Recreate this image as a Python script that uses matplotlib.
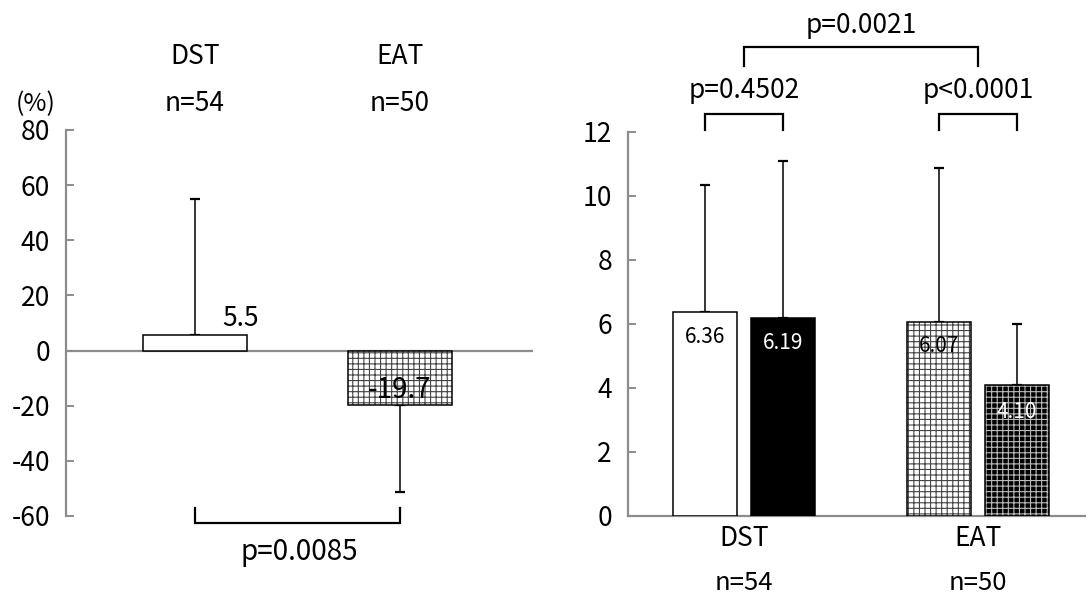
import matplotlib
matplotlib.use("Agg")
import matplotlib.pyplot as plt

plt.rcParams['font.family'] = ['Noto Sans CJK JP', 'DejaVu Sans']
plt.rcParams['hatch.linewidth'] = 0.8
plt.rcParams['axes.unicode_minus'] = False

# ---------------- data ----------------
left_categories = ['DST', 'EAT']
left_n = ['n=54', 'n=50']
left_values = [5.5, -19.7]
left_sd = [49.5, 31.6]
left_labels = ['5.5', '-19.7']
left_p = 'p=0.0085'
left_yticks = [-60, -40, -20, 0, 20, 40, 60, 80]

right_groups = ['DST', 'EAT']
right_n = ['n=54', 'n=50']
right_first = [6.36, 6.07]
right_first_sd = [3.97, 4.80]
right_second = [6.19, 4.10]
right_second_sd = [4.90, 1.90]
right_first_labels = ['6.36', '6.07']
right_second_labels = ['6.19', '4.10']
right_p_within = ['p=0.4502', 'p<0.0001']
right_p_between = 'p=0.0021'
right_yticks = [0, 2, 4, 6, 8, 10, 12]

GRAY = '#8c8c8c'
FS = 19

fig = plt.figure(figsize=(10.88, 5.96), dpi=100)

def px_axes(x0, y0, x1, y1):
    W, H = 1088, 596
    return fig.add_axes([x0 / W, (H - y1) / H, (x1 - x0) / W, (y1 - y0) / H])

# ---------------- left chart ----------------
axL = px_axes(66, 130, 533, 516)
axL.set_xlim(-0.629, 1.649)
axL.set_ylim(-60, 80)
for s in ['top', 'right', 'bottom']:
    axL.spines[s].set_visible(False)
axL.spines['left'].set_color(GRAY)
axL.spines['left'].set_linewidth(1.6)
axL.set_xticks([])
axL.set_yticks(left_yticks)
axL.tick_params(axis='y', direction='in', length=6, width=1.4, color=GRAY,
                pad=11.5, labelsize=FS)
axL.axhline(0, color=GRAY, lw=1.6, zorder=1)

bw = 0.507
xs = [0, 1]
# DST: white bar
axL.bar(xs[0], left_values[0], bw, color='white', edgecolor='black', lw=1.1, zorder=3)
# EAT: hatched bar
axL.bar(xs[1], left_values[1], bw, color='white', edgecolor='#444444', hatch='+++',
        lw=0, zorder=3)
axL.bar(xs[1], left_values[1], bw, fill=False, edgecolor='black', lw=1.1, zorder=4)
# error bars (one-sided)
axL.errorbar(xs[0], left_values[0], yerr=[[0], [left_sd[0]]], fmt='none',
             ecolor='black', elinewidth=1.1, capsize=3.5, capthick=1.6, zorder=2)
axL.errorbar(xs[1], left_values[1], yerr=[[left_sd[1]], [0]], fmt='none',
             ecolor='black', elinewidth=1.1, capsize=3.5, capthick=1.6, zorder=2)

axL.text(0.22, 11.8, left_labels[0], ha='center', va='center', fontsize=FS)
axL.text(1.0, -14.3, left_labels[1], ha='center', va='center', fontsize=FS + 1, zorder=5)

for x, c, n in zip(xs, left_categories, left_n):
    axL.text(x, 106.6, c, ha='center', va='center', fontsize=FS, clip_on=False)
    axL.text(x, 89.5, n, ha='center', va='center', fontsize=FS, clip_on=False)
axL.text(-0.776, 89.5, '(%)', ha='center', va='center', fontsize=FS - 1, clip_on=False)

# bracket below
axL.plot([xs[0], xs[0], xs[1], xs[1]], [-57.1, -62.6, -62.6, -57.1], color='black',
         lw=1.6, clip_on=False, solid_joinstyle='miter')
axL.text(0.51, -73.1, left_p, ha='center', va='center', fontsize=FS + 1, clip_on=False)

# ---------------- right chart ----------------
axR = px_axes(628, 132, 1085, 516)
axR.set_xlim(-0.496, 1.457)
axR.set_ylim(0, 12)
for s in ['top', 'right']:
    axR.spines[s].set_visible(False)
for s in ['left', 'bottom']:
    axR.spines[s].set_color(GRAY)
    axR.spines[s].set_linewidth(1.6)
axR.set_xticks([])
axR.set_yticks(right_yticks)
axR.tick_params(axis='y', direction='in', length=6, width=1.4, color=GRAY,
                pad=11.5, labelsize=FS)

rbw = 0.273
off = 0.167
g = [0, 1]
x1 = [g[0] - off, g[1] - off]
x2 = [g[0] + off, g[1] + off]

# DST first: white plain
axR.bar(x1[0], right_first[0], rbw, color='white', edgecolor='black', lw=1.1, zorder=3)
# DST second: black plain
axR.bar(x2[0], right_second[0], rbw, color='black', edgecolor='black', lw=1.1, zorder=3)
# EAT first: white hatched
axR.bar(x1[1], right_first[1], rbw, color='white', edgecolor='#444444', hatch='+++',
        lw=0, zorder=3)
axR.bar(x1[1], right_first[1], rbw, fill=False, edgecolor='black', lw=1.1, zorder=4)
# EAT second: black hatched
axR.bar(x2[1], right_second[1], rbw, color='black', edgecolor='#bbbbbb', hatch='+++',
        lw=0, zorder=3)
axR.bar(x2[1], right_second[1], rbw, fill=False, edgecolor='black', lw=1.1, zorder=4)

axR.errorbar(x1, right_first, yerr=[[0, 0], right_first_sd], fmt='none', ecolor='black',
             elinewidth=1.1, capsize=3.5, capthick=1.6, zorder=2)
axR.errorbar(x2, right_second, yerr=[[0, 0], right_second_sd], fmt='none', ecolor='black',
             elinewidth=1.1, capsize=3.5, capthick=1.6, zorder=2)

axR.text(x1[0], 5.6, right_first_labels[0], ha='center', va='center', fontsize=15,
         color='black', zorder=5)
axR.text(x2[0], 5.4, right_second_labels[0], ha='center', va='center', fontsize=15,
         color='white', zorder=5)
axR.text(x1[1], 5.3, right_first_labels[1], ha='center', va='center', fontsize=15,
         color='black', zorder=5)
axR.text(x2[1], 3.25, right_second_labels[1], ha='center', va='center', fontsize=15,
         color='white', zorder=5)

for x, c, n in zip(g, right_groups, right_n):
    axR.text(x, -0.69, c, ha='center', va='center', fontsize=FS, clip_on=False)
    axR.text(x, -2.1, n, ha='center', va='center', fontsize=FS - 0.5, clip_on=False)

# within-group brackets
for a, b, p in zip(x1, x2, right_p_within):
    axR.plot([a, a, b, b], [12.05, 12.55, 12.55, 12.05], color='black', lw=1.6,
             clip_on=False, solid_joinstyle='miter')
    axR.text((a + b) / 2, 13.3, p, ha='center', va='center', fontsize=FS, clip_on=False)
# between-group bracket
axR.plot([g[0], g[0], g[1], g[1]], [14.06, 14.66, 14.66, 14.06], color='black', lw=1.6,
         clip_on=False, solid_joinstyle='miter')
axR.text(0.5, 15.34, right_p_between, ha='center', va='center', fontsize=FS, clip_on=False)

fig.savefig('out.png', dpi=100)
